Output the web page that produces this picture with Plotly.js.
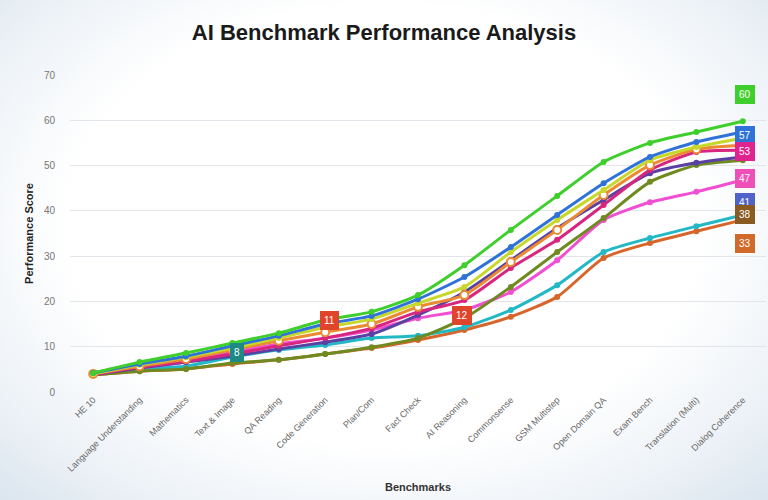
<!DOCTYPE html>
<html>
<head>
<meta charset="utf-8">
<script src="https://cdn.plot.ly/plotly-3.0.1.min.js"></script>
<style>
html,body{margin:0;padding:0;}
body{width:768px;height:500px;overflow:hidden;
background: radial-gradient(ellipse 75% 80% at 50% 45%, #ffffff 0%, #ffffff 55%, #edf2f7 78%, #d6e2ec 100%);}
#chart{width:768px;height:500px;}
</style>
</head>
<body>
<div id="chart"></div>
<script>
const benchmarks = ["HE 10","Language Understanding","Mathematics","Text & Image","QA Reading","Code Generation","Plan/Com","Fact Check","AI Reasoning","Commonsense","GSM Multistep","Open Domain QA","Exam Bench","Translation (Multi)","Dialog Coherence"];

const modelNames = ["Model A","Model B","Model C","Model D","Model E","Model F","Model G","Model H","Model I","Model J"];
const modelColors = ["#3fcf2c","#2f72d8","#c8d82a","#ec8a33","#d8267f","#5a40a2","#6f8a20","#ef4fd0","#22b8c6","#d6662b"];

const scoresA = [4.2,6.6,8.6,10.8,13.0,15.9,17.7,21.4,28.0,35.8,43.3,50.8,55.0,57.4,59.8];
const scoresB = [4.2,6.2,7.9,10.2,12.4,15.0,16.8,20.5,25.4,32.0,39.1,46.1,51.9,55.2,57.4];
const scoresC = [4.0,6.0,7.7,9.7,11.9,14.3,16.1,19.6,23.2,30.9,38.0,44.6,51.2,54.1,56.1];
const scoresD = [4.0,5.7,7.3,9.3,11.3,13.2,15.0,18.8,21.4,28.7,35.8,43.5,50.1,53.6,54.5];
const scoresE = [3.8,5.5,6.8,8.4,10.2,11.9,14.1,17.7,20.3,27.4,33.6,41.3,49.0,53.0,53.4];
const scoresF = [3.8,5.3,6.6,7.9,9.5,11.0,12.8,17.0,22.1,29.1,36.2,42.4,48.3,50.6,51.9];
const scoresG = [3.8,4.6,5.1,6.4,7.1,8.4,9.9,11.9,16.3,23.2,30.9,38.4,46.4,50.1,51.2];
const scoresH = [4.0,5.3,6.6,8.8,10.6,11.9,13.7,16.3,18.1,22.1,29.1,38.0,41.9,44.2,46.8];
const scoresI = [4.0,5.1,5.7,7.7,9.3,10.4,11.9,12.4,14.3,18.1,23.6,30.9,34.0,36.6,39.1];
const scoresJ = [3.8,4.6,5.1,6.2,7.1,8.4,9.7,11.5,13.7,16.6,21.0,29.6,32.9,35.5,38.0];
const allScores = [scoresA,scoresB,scoresC,scoresD,scoresE,scoresF,scoresG,scoresH,scoresI,scoresJ];

const yTicks = [0,10,20,30,40,50,60,70];

const badgeText = ["60","57","53","47","41","38","33"];
const badgeY = [65.8,56.7,53.0,47.2,41.9,39.1,32.7];
const badgeColors = ["#3fcf2c","#2f72d8","#e0248f","#ef4fb8","#4f63c8","#8a5a22","#d0692a"];

const calloutText = ["11","12","8"];
const calloutX = [5.1,7.95,3.1];
const calloutY = [15.7,16.8,8.8];
const calloutColors = ["#e0442a","#e0442a","#1d8a85"];

const order = [9,8,7,6,5,4,3,2,1,0];
const traces = order.map(i => ({
  type: "scatter",
  mode: "lines+markers",
  name: modelNames[i],
  x: benchmarks,
  y: allScores[i],
  line: {color: modelColors[i], width: 3, shape: "spline", smoothing: 0.6},
  marker: i === 3
    ? {size: 8, color: "#ffffff", line: {color: modelColors[i], width: 2}}
    : {size: 6, color: modelColors[i]},
  hoverinfo: "x+y+name"
}));

const annotations = [];
badgeText.forEach((t, k) => annotations.push({
  x: 14, y: badgeY[k], xref: "x", yref: "y", text: t, showarrow: false,
  bgcolor: badgeColors[k], bordercolor: badgeColors[k], borderpad: 3, borderwidth: 1,
  font: {color: "#ffffff", size: 10, family: "Liberation Sans, Arial, sans-serif"},
  xshift: 2
}));
calloutText.forEach((t, k) => annotations.push({
  x: calloutX[k], y: calloutY[k], xref: "x", yref: "y", text: t, showarrow: false,
  bgcolor: calloutColors[k], bordercolor: calloutColors[k], borderpad: 3, borderwidth: 1,
  font: {color: "#ffffff", size: 10, family: "Liberation Sans, Arial, sans-serif"}
}));

const layout = {
  width: 768, height: 500,
  paper_bgcolor: "rgba(0,0,0,0)",
  plot_bgcolor: "rgba(0,0,0,0)",
  margin: {l: 70, r: 2, t: 75, b: 108},
  showlegend: false,
  title: {text: "<b>AI Benchmark Performance Analysis</b>", x: 0.5, xanchor: "center", y: 0.936, yanchor: "middle",
          font: {size: 22, color: "#1a1a1a", family: "Liberation Sans, Arial, sans-serif"}},
  xaxis: {
    type: "category",
    range: [-0.5, 14.5],
    tickangle: -45,
    tickfont: {size: 9, color: "#666666", family: "Liberation Sans, Arial, sans-serif"},
    showgrid: false, zeroline: false, showline: false, ticks: "",
    title: {text: "<b>Benchmarks</b>", standoff: 10, font: {size: 11, color: "#333333", family: "Liberation Sans, Arial, sans-serif"}}
  },
  yaxis: {
    range: [0, 70],
    tickvals: yTicks,
    ticktext: yTicks.map(String),
    tickfont: {size: 10, color: "#777777", family: "Liberation Sans, Arial, sans-serif"},
    gridcolor: "#e2e5e9", gridwidth: 1, zeroline: false, showline: false, ticks: "",
    ticklabelstandoff: 14,
    title: {text: "<b>Performance Score</b>", standoff: 8, font: {size: 11, color: "#222222", family: "Liberation Sans, Arial, sans-serif"}}
  },
  annotations: annotations
};

Plotly.newPlot("chart", traces, layout, {displayModeBar: false, staticPlot: true});
</script>
</body>
</html>
